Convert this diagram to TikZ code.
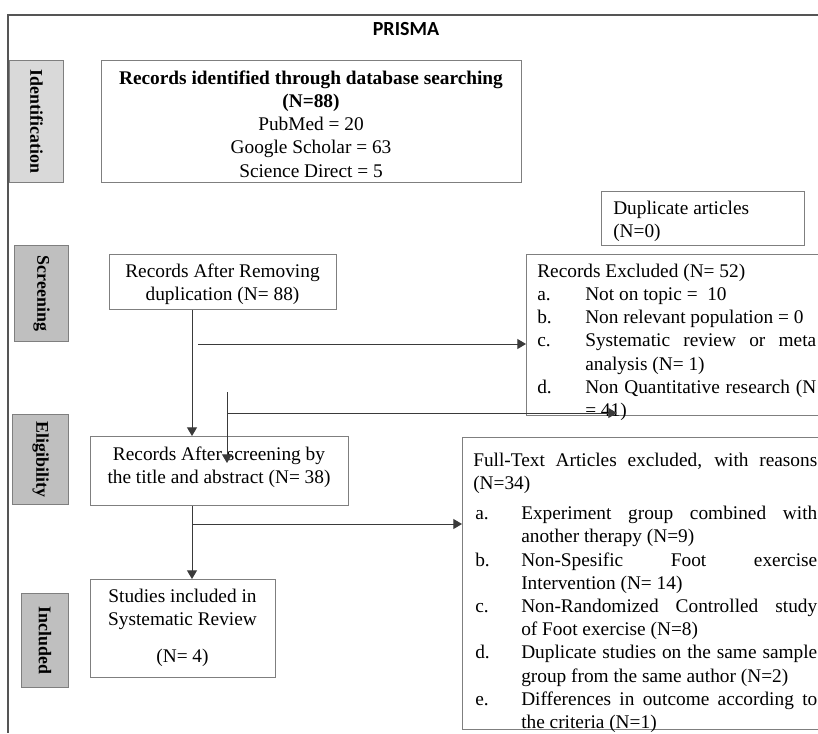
\documentclass[tikz,border=0pt]{standalone}
\usepackage{fontspec}
\setmainfont{Liberation Serif}
\newfontfamily\prismafont{Carlito}
\usetikzlibrary{arrows.meta}
\definecolor{boxgray}{HTML}{7F7F7F}
\definecolor{linec}{HTML}{3A3A3A}
\definecolor{framec}{HTML}{555555}
\definecolor{sidelight}{HTML}{D9D9D9}
\definecolor{sidedark}{HTML}{BFBFBF}
\newcommand\fs{\fontsize{14.5pt}{17.4pt}\selectfont}
\newcommand\sidefs{\fontsize{13.4pt}{16pt}\selectfont\bfseries}
\newcommand\lab[1]{\makebox[36pt][l]{#1}}
\newcommand\labb[1]{\hspace*{1.5pt}\makebox[34.5pt][l]{#1}}
\tikzset{
  box/.style={draw=boxgray, line width=0.8pt, rectangle, inner sep=0pt, anchor=north west},
  sidebox/.style={box, fill=sidedark},
  sidetxt/.style={inner sep=0pt, font=\sidefs, rotate=-90},
  txt/.style={inner sep=0pt, font=\fs, anchor=north, align=center},
  ltxt/.style={inner sep=0pt, font=\fs, anchor=north west, align=left},
  arr/.style={draw=linec, line width=0.75pt, -{Triangle[length=6.5pt,width=7.5pt]}},
  frame/.style={draw=framec, line width=0.9pt},
}
\begin{document}
\begin{tikzpicture}[x=0.75pt,y=-0.75pt]
\useasboundingbox (0,0) rectangle (818,733);
\clip (0,0) rectangle (818,733);
% frame
\coordinate (ftr) at (818,15);
\coordinate (ftl) at (8,15);
\coordinate (fbl) at (8,733);
\draw[frame] (ftr) -- (ftl) -- (fbl);
\node[inner sep=0pt, font=\prismafont\fontsize{15pt}{18pt}\selectfont\bfseries] (title) at (406,29) {PRISMA};

% side labels
\node[sidebox, fill=sidelight, minimum width=40.5pt, minimum height=91.5pt] (sid) at (9,60) {};
\node[sidetxt] (sidt) at (sid.center) {Identification};
\node[sidebox, minimum width=40.5pt, minimum height=72pt] (ssc) at (14,245) {};
\node[sidetxt] (ssct) at (ssc.center) {Screening};
\node[sidebox, minimum width=42pt, minimum height=67.5pt] (sel) at (12,414) {};
\node[sidetxt] (selt) at (sel.center) {Eligibility};
\node[sidebox, minimum width=35.25pt, minimum height=70.5pt] (sin) at (21,593) {};
\node[sidetxt] (sint) at (sin.center) {Included};

% boxes
\node[box, minimum width=315pt, minimum height=91.5pt] (RID) at (101,60) {};
\node[txt] (RIDt) at (311,67.8) {\strut\textbf{Records identified through database searching}\\ \textbf{(N=88)}\\ PubMed = 20\\ Google Scholar = 63\\ Science Direct = 5};

\node[box, minimum width=152.25pt, minimum height=40.5pt] (DUP) at (601,191) {};
\node[ltxt] (DUPt) at (613,197.8) {\strut Duplicate articles\\ (N=0)};

\node[box, minimum width=170.25pt, minimum height=41.25pt] (RAR) at (109,254) {};
\node[txt] (RARt) at (222.5,260.8) {\strut Records After Removing\\ duplication (N= 88)};

\node[box, minimum width=228pt, minimum height=120.75pt] (EXC) at (526,254) {};
\node[ltxt] (EXCt) at (537,260.8) {\strut Records Excluded (N= 52)\\
\lab{a.}Not on topic =\ \ 10\\
\lab{b.}Non relevant population = 0\\
\lab{c.}\makebox[173.25pt][s]{Systematic review or meta}\\
\hspace*{36pt}analysis (N= 1)\\
\lab{d.}\makebox[173.25pt][s]{Non Quantitative research (N}\\
\hspace*{36pt}= 41)};

\node[box, minimum width=193.5pt, minimum height=51.75pt] (RAS) at (90,436) {};
\node[txt] (RASt) at (219,443.8) {\strut Records After screening by\\ the title and abstract (N= 38)};

\node[box, minimum width=276pt, minimum height=219pt] (FTE) at (462,437) {};
\node[ltxt] (FTEt) at (473,449.8) {\strut\makebox[258pt][s]{Full-Text Articles excluded, with reasons}\\
(N=34)\\[5.2pt]
\labb{a.}\makebox[222pt][s]{Experiment group combined with}\\
\hspace*{36pt}another therapy (N=9)\\
\labb{b.}\makebox[222pt][s]{Non-Spesific Foot exercise}\\
\hspace*{36pt}Intervention (N= 14)\\
\labb{c.}\makebox[222pt][s]{Non-Randomized Controlled study}\\
\hspace*{36pt}of Foot exercise (N=8)\\
\labb{d.}\makebox[222pt][s]{Duplicate studies on the same sample}\\
\hspace*{36pt}group from the same author (N=2)\\
\labb{e.}\makebox[222pt][s]{Differences in outcome according to}\\
\hspace*{36pt}the criteria (N=1)};

\node[box, minimum width=138.75pt, minimum height=73.5pt] (INC) at (90,579) {};
\node[txt] (INCt) at (182.5,585.8) {\strut Studies included in\\ Systematic Review\\[10.4pt] (N= 4)};

% connectors
\coordinate (xa) at (192,0);
\draw[arr] (RAR.south -| xa) -- (RAS.north -| xa);
\coordinate (b1s) at (198,344);
\draw[arr] (b1s) -- (b1s -| EXC.west);
\coordinate (v2s) at (227,392);
\coordinate (v2e) at (227,463);
\draw[arr] (v2s) -- (v2e);
\coordinate (h2s) at (227,413);
\coordinate (h2e) at (617,413);
\draw[arr] (h2s) -- (h2e);
\draw[arr] (RAS.south -| xa) -- (INC.north -| xa);
\coordinate (b2s) at (192,524);
\draw[arr] (b2s) -- (b2s -| FTE.west);
\end{tikzpicture}
\end{document}
